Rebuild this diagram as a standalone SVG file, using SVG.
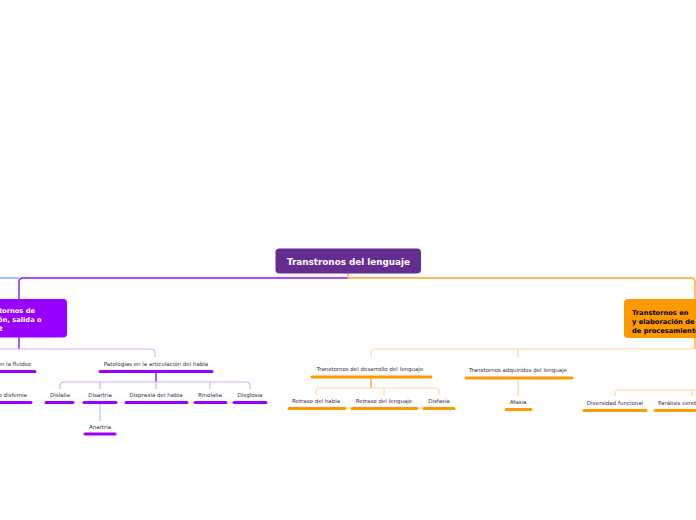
<svg xmlns="http://www.w3.org/2000/svg" width="696" height="520" viewBox="0 0 696 520">
<style>
.bg{fill:#ffffff}
.title{font-family:"DejaVu Sans","Liberation Sans",sans-serif;font-weight:bold;font-size:8.8px;fill:#ffffff}
.main{font-family:"DejaVu Sans","Liberation Sans",sans-serif;font-weight:bold;font-size:6.7px}
.sub{font-family:"DejaVu Sans","Liberation Sans",sans-serif;font-size:5.5px;fill:#333333}
.c{fill:none;stroke-linecap:butt}
.p{stroke:#9013fe;stroke-width:1.4}
.lp{stroke:#dcaaff;stroke-width:1.2}
.o{stroke:#ffa526;stroke-width:1.4}
.lo{stroke:#ffd699;stroke-width:1.2}
.b{stroke:#74a8e8;stroke-width:1.4}
.ulp{stroke:#9900ff;stroke-width:3;stroke-linecap:round}
.ulo{stroke:#ff9900;stroke-width:3;stroke-linecap:round}
</style>
<rect class="bg" x="0" y="0" width="696" height="520"/>
<g id="connectors">
<path class="c b" d="M0,278 H19"/>
<path class="c p" d="M348,278 H23 Q19,278 19,282 V299"/>
<path class="c o" d="M348,273 V278 H691 Q695,278 695,282 V299"/>
<path class="c p" d="M19,337 V349"/>
<path class="c lp" d="M0,349 H151 Q155,349 155,353 V357"/>
<path class="c p" d="M156,372 V382"/>
<path class="c lp" d="M60,389 V386 Q60,382 64,382 H246 Q250,382 250,386 V389"/>
<path class="c lp" d="M100,382 V389 M156,382 V389 M210,382 V389"/>
<path class="c lp" d="M100,403 V421"/>
<path class="c o" d="M695,338 V349"/>
<path class="c lo" d="M695,349 H375 Q371,349 371,353 V357"/>
<path class="c lo" d="M518,349 V358"/>
<path class="c o" d="M371,378 V388"/>
<path class="c lo" d="M316,395 V392 Q316,388 320,388 H435 Q439,388 439,392 V395"/>
<path class="c lo" d="M384,388 V395"/>
<path class="c lo" d="M518,379 V396"/>
<path class="c lo" d="M615,396 V394 Q615,390 619,390 H696"/>
<path class="c lo" d="M692,390 V396"/>
</g>
<g id="root">
<rect x="275.5" y="248.5" width="145.5" height="25" rx="4" fill="#662d91"/>
<text class="title" x="348.5" y="264.5" text-anchor="middle">Transtronos del lenguaje</text>
</g>
<g id="node-left">
<rect x="-40" y="299" width="107" height="38.5" rx="4" fill="#9900ff"/>
<text class="main" fill="#ffffff"><tspan x="-21.5" y="313">Transtornos de</tspan><tspan x="-22" y="322">emisión, salida o</tspan><tspan x="-22.5" y="331">output</tspan></text>
</g>
<g id="node-right">
<rect x="624" y="299" width="100" height="39" rx="4" fill="#ff9900"/>
<text class="main" fill="#000000"><tspan x="632" y="314.5">Transtornos en</tspan><tspan x="632" y="323.5">y elaboración de</tspan><tspan x="632" y="332.5">de procesamiento</tspan></text>
</g>
<g id="fluidez">
<text class="sub" x="31" y="366" text-anchor="end">Transtornos en la fluidez</text>
<path class="ulp" d="M-10,371.5 H35"/>
</g>
<g id="disfemia">
<text class="sub" x="27" y="397" text-anchor="end">Tartamudez o disfemia</text>
<path class="ulp" d="M-10,402.5 H31"/>
</g>
<g id="patologias">
<text class="sub" x="156" y="366" text-anchor="middle">Patologías en la articulación del habla</text>
<path class="ulp" d="M100,371.5 H212"/>
</g>
<g id="dislalia">
<text class="sub" x="60" y="397" text-anchor="middle">Dislalia</text>
<path class="ulp" d="M46,402.5 H73"/>
</g>
<g id="disartria">
<text class="sub" x="100" y="397" text-anchor="middle">Disartria</text>
<path class="ulp" d="M84,402.5 H116"/>
</g>
<g id="dispraxia">
<text class="sub" x="156" y="397" text-anchor="middle">Dispraxia del habla</text>
<path class="ulp" d="M126,402.5 H187"/>
</g>
<g id="rinolalia">
<text class="sub" x="210" y="397" text-anchor="middle">Rinolalia</text>
<path class="ulp" d="M195,402.5 H226"/>
</g>
<g id="disglosia">
<text class="sub" x="250" y="397" text-anchor="middle">Disglosia</text>
<path class="ulp" d="M234,402.5 H266"/>
</g>
<g id="anartria">
<text class="sub" x="100" y="429" text-anchor="middle">Anartria</text>
<path class="ulp" d="M85,434 H115"/>
</g>
<g id="desarrollo">
<text class="sub" x="370" y="371" text-anchor="middle">Transtornos del desarrollo del lenguaje</text>
<path class="ulo" d="M312,377 H431"/>
</g>
<g id="adquiridos">
<text class="sub" x="518" y="372" text-anchor="middle">Transtornos adquiridos del lenguaje</text>
<path class="ulo" d="M466,378 H572"/>
</g>
<g id="retraso-habla">
<text class="sub" x="316" y="403" text-anchor="middle">Retraso del habla</text>
<path class="ulo" d="M289,408.5 H345"/>
</g>
<g id="retraso-lenguaje">
<text class="sub" x="384" y="403" text-anchor="middle">Retraso del lenguaje</text>
<path class="ulo" d="M352,408.5 H417"/>
</g>
<g id="disfasia">
<text class="sub" x="439" y="403" text-anchor="middle">Disfasia</text>
<path class="ulo" d="M424,408.5 H454"/>
</g>
<g id="afasia">
<text class="sub" x="518" y="404" text-anchor="middle">Afasia</text>
<path class="ulo" d="M506,409.5 H531"/>
</g>
<g id="diversidad">
<text class="sub" x="615" y="405" text-anchor="middle">Diversidad funcional</text>
<path class="ulo" d="M584,410.5 H646"/>
</g>
<g id="paralisis">
<text class="sub" x="658" y="405">Parálisis cerebral</text>
<path class="ulo" d="M655,410.5 H706"/>
</g>
</svg>
